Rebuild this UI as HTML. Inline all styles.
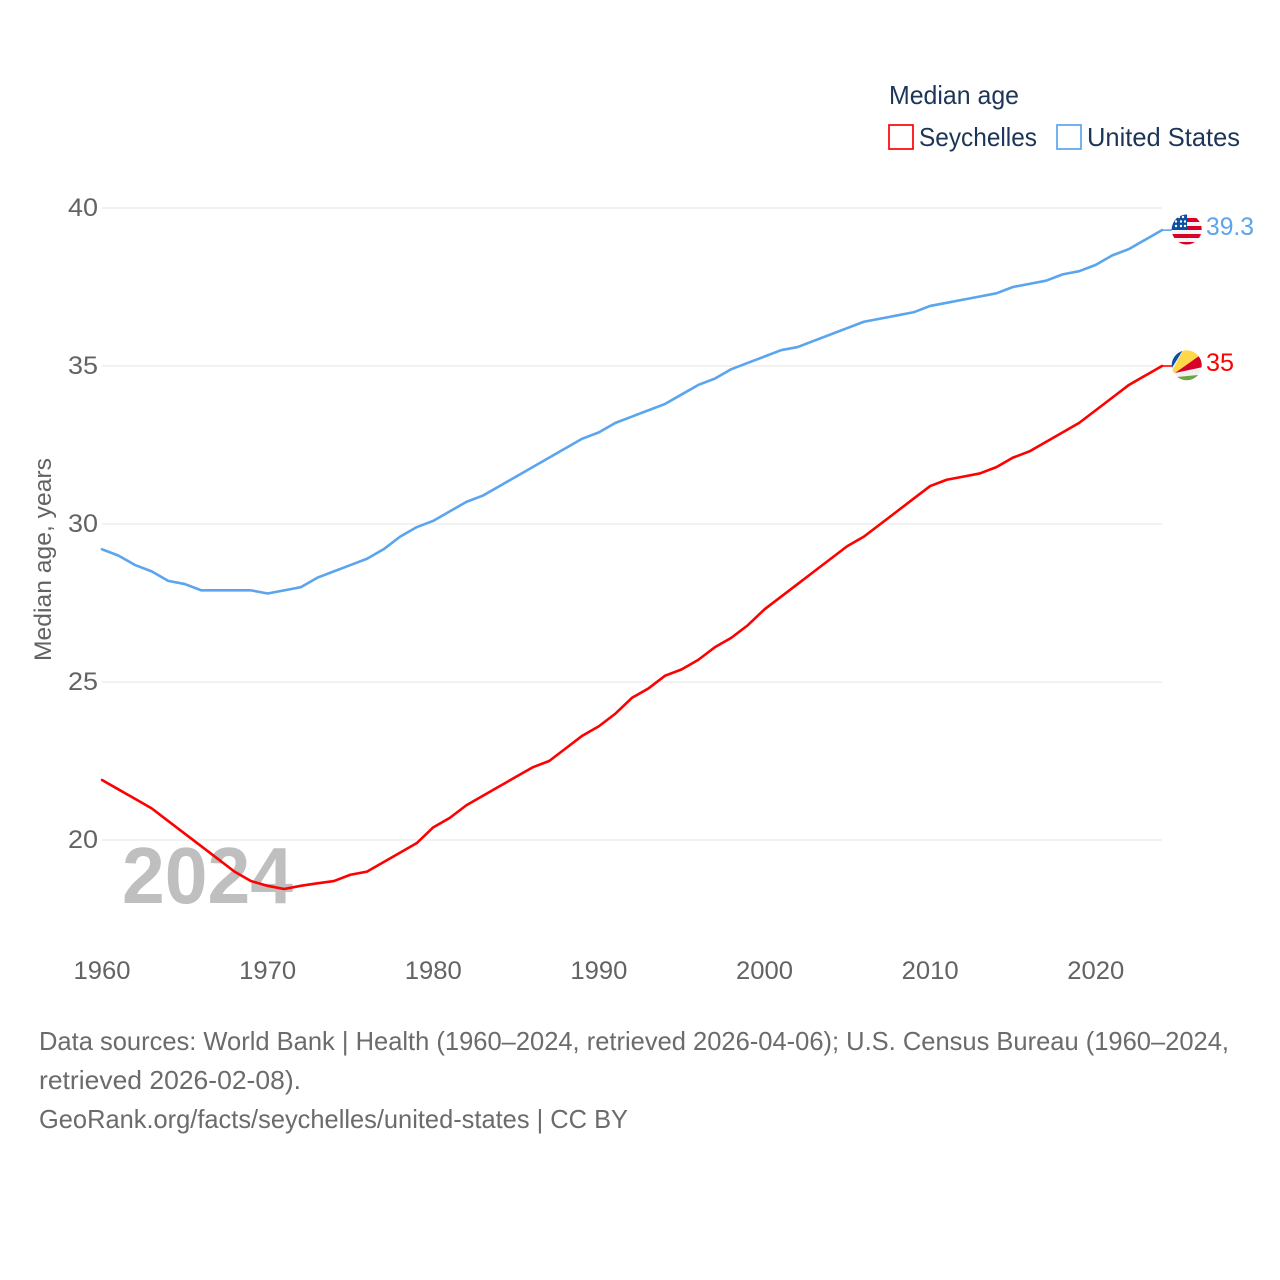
<!DOCTYPE html>
<html lang="en">
<head>
<meta charset="utf-8">
<title>Median age: Seychelles and United States</title>
<style>
html,body{margin:0;padding:0;background:#fff;width:1280px;height:1280px;overflow:hidden}
svg{display:block}
text{font-family:"Liberation Sans",sans-serif}
</style>
</head>
<body>
<svg id="chart" width="1280" height="1280" viewBox="0 0 1280 1280" xmlns="http://www.w3.org/2000/svg">
  <defs>
    <clipPath id="clip-us"><circle cx="1186.700" cy="229.500" r="15"/></clipPath>
    <clipPath id="clip-sc"><circle cx="1186.700" cy="365.300" r="15"/></clipPath>
  </defs>
  <g id="grid"></g>
  <g id="y-axis"></g>
  <g id="x-axis"></g>
  <text x="122" y="903" font-size="80" font-weight="700" fill="#bfbfbf" textLength="171" lengthAdjust="spacingAndGlyphs">2024</text>
  <g id="series"></g>

  <text transform="translate(51 661) rotate(-90)" x="0" y="0" font-size="24.5" fill="#636363" textLength="203" lengthAdjust="spacingAndGlyphs">Median age, years</text>

  <g>
    <text x="889" y="104" font-size="26" fill="#1d3557" textLength="130" lengthAdjust="spacingAndGlyphs">Median age</text>
    <rect x="889" y="125" width="24" height="24" fill="#fff" stroke="#ff0000" stroke-width="1.7"/>
    <text x="919" y="146" font-size="26" fill="#1d3557" textLength="118" lengthAdjust="spacingAndGlyphs">Seychelles</text>
    <rect x="1057" y="125" width="24" height="24" fill="#fff" stroke="#5ba4ee" stroke-width="1.7"/>
    <text x="1087" y="146" font-size="26" fill="#1d3557" textLength="153" lengthAdjust="spacingAndGlyphs">United States</text>
  </g>

  <g clip-path="url(#clip-us)">
    <rect x="1171" y="214" width="32" height="32" fill="#f4f4f4"/>
    <rect x="1171" y="218" width="32" height="4" fill="#d80027"/>
    <rect x="1171" y="226" width="32" height="4" fill="#d80027"/>
    <rect x="1171" y="234" width="32" height="4" fill="#d80027"/>
    <rect x="1171" y="242" width="32" height="4" fill="#d80027"/>
    <rect x="1171" y="214" width="16" height="16" fill="#0b4ea2"/>
    <circle cx="1176" cy="226" r="1.200" fill="#fff"/><circle cx="1181" cy="226" r="1.200" fill="#fff"/>
    <circle cx="1176" cy="221.500" r="1.200" fill="#fff"/><circle cx="1181" cy="221.500" r="1.200" fill="#fff"/>
    <circle cx="1185" cy="221.500" r="1.200" fill="#fff"/><circle cx="1185" cy="226" r="1.200" fill="#fff"/>
    <circle cx="1183" cy="217" r="1.200" fill="#fff"/><circle cx="1179" cy="217" r="1.200" fill="#fff"/>
  </g>

  <g clip-path="url(#clip-sc)">
    <rect x="1171" y="349" width="32" height="33" fill="#f2f2f2"/>
    <polygon points="1170,371 1186,345 1165,345" fill="#0b4ea2"/>
    <polygon points="1172,371 1186,345 1205,345 1199,356 1175,373" fill="#ffd84a"/>
    <polygon points="1175,373 1199,356 1206,356 1203,367" fill="#d80027"/>
    <polygon points="1177,377 1198,375 1198,385 1177,385" fill="#6da544"/>
  </g>

  <text x="1206" y="235" font-size="25" fill="#5ba4ee" textLength="48" lengthAdjust="spacingAndGlyphs">39.3</text>
  <text x="1206" y="371" font-size="25" fill="#ff0000" textLength="28" lengthAdjust="spacingAndGlyphs">35</text>

  <g>
    <text x="39" y="1050" font-size="26" fill="#6b6b6b" textLength="1190" lengthAdjust="spacingAndGlyphs">Data sources: World Bank | Health (1960–2024, retrieved 2026-04-06); U.S. Census Bureau (1960–2024,</text>
    <text x="39" y="1089" font-size="26" fill="#6b6b6b" textLength="262" lengthAdjust="spacingAndGlyphs">retrieved 2026-02-08).</text>
    <text x="39" y="1128" font-size="26" fill="#6b6b6b" textLength="589" lengthAdjust="spacingAndGlyphs">GeoRank.org/facts/seychelles/united-states | CC BY</text>
  </g>
</svg>
<script>
const startYear = 1960;
const seychellesValues = [21.9,21.6,21.3,21.0,20.6,20.2,19.8,19.4,19.0,18.7,18.55,18.45,18.55,18.63,18.7,18.9,19.0,19.3,19.6,19.9,20.4,20.7,21.1,21.4,21.7,22.0,22.3,22.5,22.9,23.3,23.6,24.0,24.5,24.8,25.2,25.4,25.7,26.1,26.4,26.8,27.3,27.7,28.1,28.5,28.9,29.3,29.6,30.0,30.4,30.8,31.2,31.4,31.5,31.6,31.8,32.1,32.3,32.6,32.9,33.2,33.6,34.0,34.4,34.7,35.0];
const unitedStatesValues = [29.2,29.0,28.7,28.5,28.2,28.1,27.9,27.9,27.9,27.9,27.8,27.9,28.0,28.3,28.5,28.7,28.9,29.2,29.6,29.9,30.1,30.4,30.7,30.9,31.2,31.5,31.8,32.1,32.4,32.7,32.9,33.2,33.4,33.6,33.8,34.1,34.4,34.6,34.9,35.1,35.3,35.5,35.6,35.8,36.0,36.2,36.4,36.5,36.6,36.7,36.9,37.0,37.1,37.2,37.3,37.5,37.6,37.7,37.9,38.0,38.2,38.5,38.7,39.0,39.3];
const yTicks = [20,25,30,35,40];
const xTicks = [1960,1970,1980,1990,2000,2010,2020];

const NS = 'http://www.w3.org/2000/svg';
function xScale(year){ return 102 + (year - 1960) * (1162 - 102) / 64; }
function yScale(v){ return 840 - (v - 20) * 31.6; }
function make(tag, attrs, parent){
  const el = document.createElementNS(NS, tag);
  for (const k in attrs) el.setAttribute(k, attrs[k]);
  parent.appendChild(el);
  return el;
}

const grid = document.getElementById('grid');
const yAxis = document.getElementById('y-axis');
const xAxis = document.getElementById('x-axis');
const seriesGroup = document.getElementById('series');

yTicks.forEach(function(t){
  const line = make('line', {x1:102, x2:1162, y1:yScale(t), y2:yScale(t), stroke:'#ebebeb', 'stroke-width':1.3}, grid);
  
  
  const label = make('text', {x:68, y:yScale(t) + 8, 'font-size':25, fill:'#636363', textLength:30, lengthAdjust:'spacingAndGlyphs'}, yAxis);
  
  
  label.textContent = t;
});

xTicks.forEach(function(t){
  const label = make('text', {x:xScale(t), y:979, 'text-anchor':'middle', 'font-size':25, fill:'#636363', textLength:57, lengthAdjust:'spacingAndGlyphs'}, xAxis);
  
  
  label.textContent = t;
});

function drawSeries(values, color, name){
  const pts = values.map(function(v, i){ return xScale(startYear + i).toFixed(2) + ',' + yScale(v).toFixed(2); });
  const line = make('polyline', {points:pts.join(' '), fill:'none', stroke:color, 'stroke-width':2.6, 'stroke-linejoin':'round', 'stroke-linecap':'round'}, seriesGroup);
  
  
  const lastY = yScale(values[values.length - 1]);
  const tail = make('line', {x1:xScale(startYear + values.length - 1), x2:1172, y1:lastY, y2:lastY, stroke:color, 'stroke-width':1.6}, seriesGroup);
  
  
}

drawSeries(unitedStatesValues, '#5ba4ee', 'united-states');
drawSeries(seychellesValues, '#ff0000', 'seychelles');
</script>
</body>
</html>
